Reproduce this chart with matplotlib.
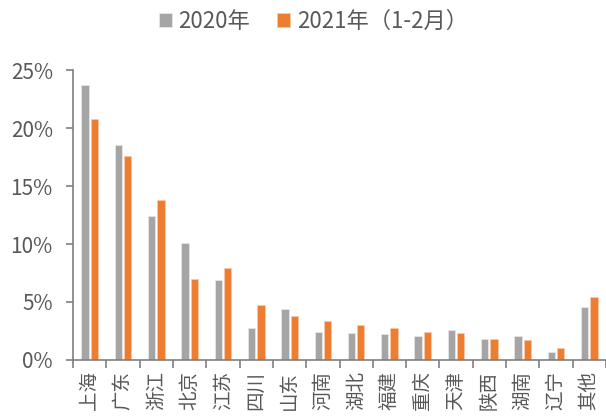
import numpy as np
import matplotlib.pyplot as plt
from matplotlib.ticker import PercentFormatter, FixedLocator

plt.rcParams['font.family'] = ['Noto Sans CJK SC', 'DejaVu Sans']

# data
provinces = ['上海', '广东', '浙江', '北京', '江苏', '四川', '山东', '河南',
             '湖北', '福建', '重庆', '天津', '陕西', '湖南', '辽宁', '其他']
share_2020 = [23.7, 18.5, 12.4, 10.1, 6.9, 2.8, 4.4, 2.4,
              2.3, 2.2, 2.1, 2.6, 1.8, 2.1, 0.7, 4.6]
share_2021 = [20.8, 17.6, 13.8, 7.0, 7.9, 4.7, 3.8, 3.4,
              3.0, 2.8, 2.4, 2.3, 1.8, 1.7, 1.0, 5.4]
labels = ['2020年', '2021年（1-2月）']

TXT = '#595959'
AX = '#7f7f7f'

fig = plt.figure(figsize=(6.06, 4.2), dpi=100)
ax = fig.add_axes([73 / 606, 60 / 420, 533 / 606, 290 / 420])

x = np.arange(len(provinces))
w = 0.22
ax.bar(x - 0.14, share_2020, width=w, color='#A5A5A5', edgecolor='#e6e6e6',
       linewidth=0.6, label=labels[0])
ax.bar(x + 0.14, share_2021, width=w, color='#ED7D31', edgecolor='#f8c9a8',
       linewidth=0.6, label=labels[1])

ax.set_xlim(-0.5, len(provinces) - 0.5)
ax.set_ylim(0, 25)
ax.yaxis.set_major_locator(FixedLocator([0, 5, 10, 15, 20, 25]))
ax.yaxis.set_major_formatter(PercentFormatter(decimals=0))

ax.set_xticks(x)
ax.set_xticklabels(provinces, rotation=90, fontsize=14, color=TXT)
ax.set_xticks(np.arange(-0.5, len(provinces)), minor=True)
ax.tick_params(axis='x', which='major', length=0, pad=8)
ax.tick_params(axis='x', which='minor', length=6, width=1.2, color=AX)
ax.tick_params(axis='y', length=5, width=1.2, color=AX, labelsize=15,
               labelcolor=TXT, pad=9.5)

for s in ['top', 'right']:
    ax.spines[s].set_visible(False)
for s in ['left', 'bottom']:
    ax.spines[s].set_color(AX)
    ax.spines[s].set_linewidth(1.2)

fig.legend(loc='upper center', bbox_to_anchor=(0.517, 1.025), ncol=2,
           frameon=False, fontsize=16, labelcolor=TXT, handlelength=0.6,
           handleheight=0.6, handletextpad=0.3, columnspacing=1.2)

fig.savefig('out.png', dpi=100)
